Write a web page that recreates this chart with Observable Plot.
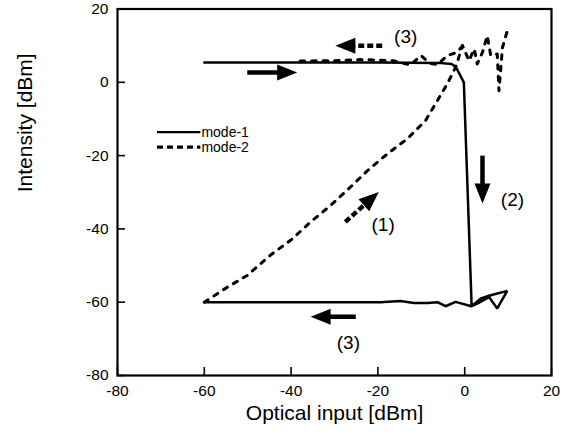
<!DOCTYPE html>
<html><head><meta charset="utf-8">
<script src="https://cdn.jsdelivr.net/npm/d3@7"></script>
<script src="https://cdn.jsdelivr.net/npm/@observablehq/plot@0.6"></script>
<style>body{margin:0;background:#fff} svg{display:block}</style>
</head><body><div id="chart"></div>
<script>
// ---- data ----
const xTicks = [-80, -60, -40, -20, 0, 20];
const yTicks = [-80, -60, -40, -20, 0, 20];
const seriesNames = ["mode-1", "mode-2"];

// mode-1 (solid): forward high level, drop (2), noisy loop, return along low level (3)
const mode1X = [-60, -40, -20, -6, -3, -2, -0.2, 1.6, 3.7, 6.0, 9.8, 7.5, 5.6, 2.9, 1.5, -2.1, -4.4, -6.3, -8.6, -11.7, -14.8, -19.4, -60];
const mode1Y = [5.4, 5.4, 5.4, 5.3, 5.0, 4.1, 0, -61.1, -59.0, -58.1, -56.9, -61.7, -58.6, -60.4, -61.1, -59.9, -61.1, -60, -60.2, -60.2, -59.7, -60, -60];

// mode-2 (dashed): forward rise (1) and noisy top
const mode2FwdX = [-60, -54.7, -50.1, -44.8, -40.1, -35.5, -30.9, -26.7, -22.4, -17.8, -13.2, -9.0, -6.3, -4.0, -2.1, -0.5, 1.0, 2.2, 2.9, 4.1, 5.2, 6.0, 7.5, 7.9, 8.7, 10];
const mode2FwdY = [-60, -55.9, -52.7, -47.2, -43.1, -38.1, -33.6, -29.0, -24.1, -19.5, -15.4, -10.4, -5.0, -0.4, 4.1, 10.0, 5.9, 9.1, 5.0, 8.2, 12.7, 7.3, 7.7, -2.3, 9.5, 14.8];
// mode-2 backward sweep (3)
const mode2BackX = [-0.5, -1.7, -4.0, -6.3, -8.0, -10.1, -12.5, -16.4, -24, -30, -39];
const mode2BackY = [10.0, 8.2, 7.3, 4.8, 5.2, 7.3, 4.7, 5.9, 6.2, 5.9, 5.8];

// annotation arrows (data coordinates) and labels
const arrowTailX = [-50.1, -25.1, 4.1, -19.0, -27.5];
const arrowTailY = [2.7, -64, -20, 10, -38.1];
const arrowTipX = [-38.6, -35.5, 4.1, -29.8, -19.8];
const arrowTipY = [2.7, -64, -33.1, 10, -29.9];
const arrowDashed = [false, false, false, true, true];
const labelText = ["(3)", "(2)", "(1)", "(3)"];
const labelX = [-13.6, 11.0, -18.8, -26.8];
const labelY = [12.3, -32.2, -39.0, -71.0];

// legend placement (data coordinates)
const legendX1 = -70.9, legendX2 = -60.9;
const legendY = [-13.6, -17.7];

// ---- layout ----
const W = 565, H = 438, mL = 117, mR = 14, mT = 8.5, mB = 63;
const kx = (W - mL - mR) / 100, ky = (H - mT - mB) / 100;
const headL = 20, headW = 16;

const arrowHead = {
  draw(ctx) {
    ctx.moveTo(0, 0);
    ctx.lineTo(-headL, -headW / 2);
    ctx.lineTo(-headL, headW / 2);
    ctx.closePath();
  }
};

const arrows = arrowTailX.map((_, i) => {
  const dxp = (arrowTipX[i] - arrowTailX[i]) * kx;
  const dyp = -(arrowTipY[i] - arrowTailY[i]) * ky;
  const len = Math.hypot(dxp, dyp);
  const ux = dxp / len, uy = dyp / len;
  const back = headL * 0.6;
  return {
    x1: arrowTailX[i], y1: arrowTailY[i],
    x2: arrowTipX[i] - ux * back / kx, y2: arrowTipY[i] + uy * back / ky,
    tx: arrowTipX[i], ty: arrowTipY[i],
    angle: Math.atan2(dyp, dxp) * 180 / Math.PI,
    dashed: arrowDashed[i]
  };
});

const mode1 = mode1X.map((x, i) => ({x, y: mode1Y[i]}));
const mode2 = [
  ...mode2FwdX.map((x, i) => ({x, y: mode2FwdY[i], seg: "fwd"})),
  ...mode2BackX.map((x, i) => ({x, y: mode2BackY[i], seg: "back"}))
];
const labels = labelText.map((t, i) => ({t, x: labelX[i], y: labelY[i]}));
const legend = seriesNames.map((name, i) => ({name, y: legendY[i], dashed: i === 1}));

const chart = Plot.plot({
  width: W, height: H,
  marginLeft: mL, marginRight: mR, marginTop: mT, marginBottom: mB,
  style: {fontFamily: "'Liberation Sans', Arial, sans-serif", fontSize: "15.5px", background: "white", color: "black", overflow: "visible"},
  x: {domain: [-80, 20]},
  y: {domain: [-80, 20]},
  marks: [
    Plot.axisX({ticks: xTicks, tickSize: -8, tickPadding: 17, tickFormat: d => String(d), label: null, strokeWidth: 1.6}),
    Plot.axisY({ticks: yTicks, tickSize: -8, tickPadding: 17, tickFormat: d => String(d), label: null, strokeWidth: 1.6}),
    Plot.frame({stroke: "black", strokeWidth: 2.2}),
    Plot.line(mode1, {x: "x", y: "y", stroke: "black", strokeWidth: 2.5, strokeLinejoin: "miter"}),
    Plot.line(mode2, {x: "x", y: "y", z: "seg", stroke: "black", strokeWidth: 3, strokeDasharray: "4.5,7", strokeLinecap: "round"}),
    // arrows
    Plot.link(arrows.filter(d => !d.dashed), {x1: "x1", y1: "y1", x2: "x2", y2: "y2", stroke: "black", strokeWidth: 4.5}),
    Plot.link(arrows.filter(d => d.dashed), {x1: "x1", y1: "y1", x2: "x2", y2: "y2", stroke: "black", strokeWidth: 4.5, strokeDasharray: "6,3"}),
    Plot.dot(arrows, {x: "tx", y: "ty", symbol: arrowHead, rotate: "angle", fill: "black", stroke: null}),
    Plot.text(labels, {x: "x", y: "y", text: "t", fontSize: 19, fill: "black"}),
    // legend
    Plot.link(legend.filter(d => !d.dashed), {x1: legendX1, x2: legendX2, y1: "y", y2: "y", stroke: "black", strokeWidth: 2.2}),
    Plot.link(legend.filter(d => d.dashed), {x1: legendX1, x2: legendX2, y1: "y", y2: "y", stroke: "black", strokeWidth: 3.2, strokeDasharray: "6,4"}),
    Plot.text(legend, {x: legendX2, y: "y", text: "name", textAnchor: "start", dx: 1, fontSize: 14, fill: "black"}),
    // axis titles
    Plot.text(["Optical input [dBm]"], {frameAnchor: "bottom", dy: 44, fontSize: 21, fill: "black"}),
    Plot.text(["Intensity [dBm]"], {frameAnchor: "left", dx: -92, rotate: -90, fontSize: 21, fill: "black"})
  ]
});
document.getElementById("chart").appendChild(chart);
</script>
</body></html>
